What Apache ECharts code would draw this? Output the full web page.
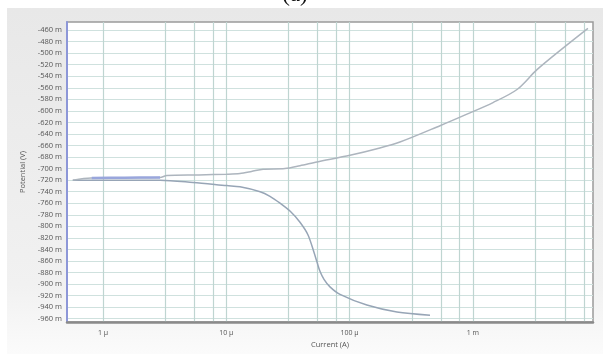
<!DOCTYPE html>
<html>
<head>
<meta charset="utf-8">
<script src="https://cdn.jsdelivr.net/npm/echarts@6/dist/echarts.min.js"></script>
<style>html,body{margin:0;padding:0;background:#fff;}#c{width:603px;height:354px;}</style>
</head>
<body>
<div id="c"></div>
<script>
// Anodic (upper) branch: current (A), potential (mV)
const upperI = [0.57e-6, 0.8e-6, 1.5e-6, 2.9e-6, 3.3e-6, 6e-6, 10.1e-6, 12.9e-6, 16e-6, 19.9e-6, 29.9e-6, 39.6e-6, 54.4e-6, 100.7e-6, 166.7e-6, 256e-6, 541e-6, 895e-6, 1.456e-3, 2.28e-3, 3.31e-3, 5.8e-3, 8.57e-3];
const upperV = [-720, -716.5, -716, -715.5, -712, -711, -709.7, -708.5, -705, -701, -700, -695, -688.5, -677, -665.6, -654, -625.7, -605.7, -585.6, -563, -528.6, -485.7, -457];
// Blue overlapping segment
const blueI = [0.81e-6, 1.5e-6, 2.9e-6];
const blueV = [-716.3, -715.8, -715.4];
// Cathodic (lower) branch
const lowerI = [0.568e-6, 1e-6, 2.9e-6, 5.37e-6, 10.1e-6, 12.9e-6, 18.8e-6, 22.6e-6, 27.3e-6, 33e-6, 39.6e-6, 46e-6, 51.4e-6, 54.4e-6, 57.5e-6, 62e-6, 69.3e-6, 83.6e-6, 138e-6, 242e-6, 449e-6];
const lowerV = [-720, -720, -720, -724, -729.5, -731.5, -740, -748, -760, -774, -793, -815, -845, -862, -878, -892, -905, -918, -936.5, -948.5, -954];
// Axis ticks
const xGridTicks = [1e-6, 3.2e-6, 5.5e-6, 7.8e-6, 1e-5, 3.2e-5, 5.5e-5, 7.8e-5, 1e-4, 3.2e-4, 5.5e-4, 7.8e-4, 1e-3, 3.2e-3, 5.6e-3, 8e-3];
const xLabelTicks = [1e-6, 1e-5, 1e-4, 1e-3];
const xLabelText = ['1 µ', '10 µ', '100 µ', '1 m'];
const yTicks = [];
for (let v = -960; v <= -460; v += 20) yTicks.push(v);

const zip = (a, b) => a.map((x, i) => [x, b[i]]);

const chart = echarts.init(document.getElementById('c'), null, {renderer: 'canvas'});
const font = 'Open Sans';
chart.setOption({
  animation: false,
  backgroundColor: '#ffffff',
  graphic: [
    {type: 'rect', z: -10, shape: {x: 7, y: 8, width: 596, height: 346},
     style: {fill: new echarts.graphic.LinearGradient(0, 0, 0, 1, [{offset: 0, color: '#e8e8e8'}, {offset: 0.8, color: '#f1f1f1'}, {offset: 1, color: '#fbfbfb'}])}},
    {type: 'text', x: 295, y: 6, z: 10,
     style: {text: '(a)', font: '23px "Liberation Serif"', fill: '#111', textAlign: 'center', textVerticalAlign: 'bottom'}}
  ],
  grid: {left: 67, top: 22, width: 526, height: 303, show: true, backgroundColor: '#ffffff', borderColor: '#9a9a9a', borderWidth: 1.5},
  xAxis: {
    type: 'log', logBase: 10, min: 0.5105e-6, max: 9.42e-3,
    name: 'Current (A)', nameLocation: 'middle', nameGap: 14,
    nameTextStyle: {fontFamily: font, fontSize: 7.5, color: '#555'},
    axisLine: {show: true, lineStyle: {color: '#8a8a8a', width: 2.5}},
    axisTick: {show: false, customValues: xGridTicks},
    axisLabel: {customValues: xLabelTicks, fontFamily: font, fontSize: 7, color: '#555', margin: 7,
      formatter: v => { const i = xLabelTicks.findIndex(t => Math.abs(Math.log10(t) - Math.log10(v)) < 0.01); return i >= 0 ? xLabelText[i] : ''; }},
    splitLine: {show: true, lineStyle: {color: '#bfd5d1', width: 1.2}},
    minorSplitLine: {show: false}
  },
  yAxis: {
    type: 'value', min: -966, max: -446,
    name: 'Potential (V)', nameLocation: 'middle', nameGap: 28, nameRotate: 90,
    nameTextStyle: {fontFamily: font, fontSize: 7.5, color: '#555'},
    axisLine: {show: true, lineStyle: {color: '#8d97d8', width: 2}},
    axisTick: {show: false, customValues: yTicks},
    axisLabel: {customValues: yTicks, fontFamily: font, fontSize: 7.5, color: '#555', margin: 5,
      formatter: v => Math.round(v) + ' m'},
    splitLine: {show: true, lineStyle: {color: '#cfe1de', width: 1.2}}
  },
  series: [
    {type: 'line', data: zip(lowerI, lowerV), smooth: 0.3, showSymbol: false,
     lineStyle: {color: '#97a5b6', width: 1.5}, z: 3},
    {type: 'line', data: zip(upperI, upperV), smooth: 0.3, showSymbol: false,
     lineStyle: {color: '#adb5be', width: 1.5}, z: 3},
    {type: 'line', data: zip(blueI, blueV), smooth: 0.3, showSymbol: false,
     lineStyle: {color: '#99a6dc', width: 2.5}, z: 4}
  ]
});
</script>
</body>
</html>
